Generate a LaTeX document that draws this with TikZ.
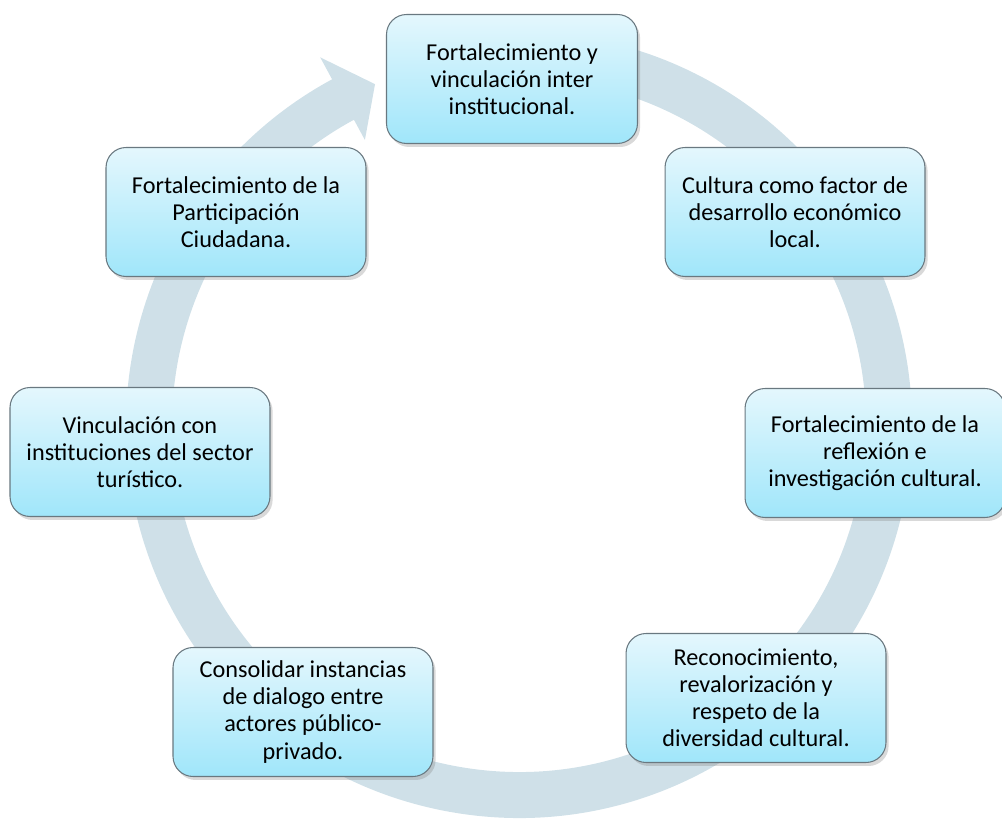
\documentclass[tikz,border=0pt]{standalone}
\usepackage{fontspec}
\setmainfont{Carlito}
\usetikzlibrary{shadows, calc}

\definecolor{ringblue}{RGB}{207,224,232}
\definecolor{boxtop}{RGB}{228,247,253}
\definecolor{boxbottom}{RGB}{160,230,250}
\definecolor{boxline}{RGB}{105,120,128}

\begin{document}
\begin{tikzpicture}[x=0.02cm, y=0.02cm,
    box/.style={rectangle, rounded corners=0.4cm, draw=boxline, line width=0.6pt,
        top color=boxtop, bottom color=boxbottom, minimum width=5.2cm, minimum height=2.58cm,
        align=center, font=\fontsize{13.8}{15.4}\selectfont,
        drop shadow={shadow xshift=1.5pt, shadow yshift=-2pt, opacity=0.3}}]
    \useasboundingbox (0,0) rectangle (1002,-820);
    \coordinate (C) at (519,-425);

    \draw[ringblue, line width=0.92cm] (C) ++(80:370) arc[start angle=80, end angle=-242, radius=370];
    \fill[ringblue] ($(C)+(118.4:418)$) -- ($(C)+(112.9:370)$) -- ($(C)+(118.4:324)$) -- cycle;

    \node[box, minimum width=5.02cm] (E1) at (512,-79) {Fortalecimiento y \\ vinculación inter \\ institucional.};
    \node[box] (E2) at (795,-212) {Cultura como factor de \\ desarrollo económico \\ local.};
    \node[box] (E3) at (875,-453) {Fortalecimiento de la \\ reflexión e \\ investigación cultural.};
    \node[box] (E4) at (756,-698) {Reconocimiento, \\ revalorización y \\ respeto de la \\ diversidad cultural.};
    \node[box] (E5) at (303,-712) {Consolidar instancias \\ de dialogo entre \\ actores público- \\ privado.};
    \node[box] (E6) at (140,-452) {Vinculación con \\ instituciones del sector \\ turístico.};
    \node[box] (E7) at (236,-212) {Fortalecimiento de la \\ Participación \\ Ciudadana.};
\end{tikzpicture}
\end{document}
